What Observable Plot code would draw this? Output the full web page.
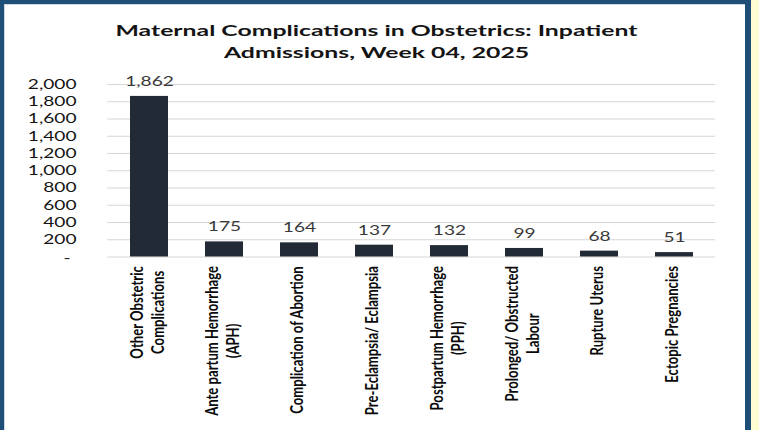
<!DOCTYPE html>
<html>
<head>
<meta charset="utf-8">
<script src="https://cdn.jsdelivr.net/npm/d3@7"></script>
<script src="https://cdn.jsdelivr.net/npm/@observablehq/plot@0.6"></script>
<style>
  body { margin: 0; background: #fff; }
  #wrap { position: relative; width: 759px; height: 430px; overflow: hidden; background: #fff; }
  .b { position: absolute; }
  #title { position: absolute; left: 0; top: 19px; width: 754px; text-align: center;
           font-family: Lato, "Open Sans", sans-serif; font-weight: bold; font-size: 16px;
           line-height: 21.5px; color: #141414; }
  #title span { display: inline-block; white-space: nowrap; transform-origin: 50% 50%; }
  #chart { position: absolute; left: 0; top: 64px; }
</style>
</head>
<body>
<div id="wrap">
  <div class="b" style="left:0;top:0;width:750px;height:4px;background:#1f4e79"></div>
  <div class="b" style="left:4px;top:4px;width:741px;height:1px;background:#cdd7e4"></div>
  <div class="b" style="left:0;top:0;width:4px;height:430px;background:#1f4e79"></div>
  <div class="b" style="left:4px;top:4px;width:1px;height:426px;background:#cdd7e4"></div>
  <div class="b" style="left:745px;top:0;width:6px;height:430px;background:#1f4e79"></div>
  <div class="b" style="left:751px;top:0;width:8px;height:430px;background:#fefed2"></div>
  <div id="title"></div>
  <div id="chart"></div>
</div>
<script>
// ---- data ----
const titleLines = ["Maternal Complications in Obstetrics: Inpatient", "Admissions, Week 04, 2025"];
const categories = [
  "Other Obstetric\nComplications",
  "Ante partum Hemorrhage\n(APH)",
  "Complication of Abortion",
  "Pre-Eclampsia/ Eclampsia",
  "Postpartum Hemorrhage\n(PPH)",
  "Prolonged/ Obstructed\nLabour",
  "Rupture Uterus",
  "Ectopic Pregnancies"
];
const values = [1862, 175, 164, 137, 132, 99, 68, 51];
const yTicks = [0, 200, 400, 600, 800, 1000, 1200, 1400, 1600, 1800, 2000];

// ---- measurement helpers ----
const ctx = document.createElement("canvas").getContext("2d");
function measure(text, font) { ctx.font = font; return ctx.measureText(text).width; }

// title (stretched to match the reference's wide lettering)
const titleEl = document.getElementById("title");
const sT = 522 / measure(titleLines[0], "bold 16px Lato");
titleLines.forEach((t, i) => {
  const s = document.createElement("span");
  s.textContent = t;
  s.style.transform = `scaleX(${sT})`;
  titleEl.appendChild(s);
  if (i < titleLines.length - 1) titleEl.appendChild(document.createElement("br"));
});

// number font stretch
const numSize = 13.5;
const sN = 48.7 / measure("2,000", `${numSize}px Lato`);
// category label font size (glyph height enlarged by catStretch)
const catSize = 150 / measure("Ante partum Hemorrhage", "bold 1px Lato");
const catStretch = 1.27;
const catFont = `bold ${catSize}px Lato`;
const catLH = 21 / (catSize * catStretch);
const maxLen = c => Math.max(...c.split("\n").map(l => measure(l, catFont)));

const data = categories.map((c, i) => ({cat: c, value: values[i]}));
const fmt = d3.format(",");

const W = 759, H = 366;
const chart = Plot.plot({
  width: W,
  height: H,
  marginLeft: 107.3,
  marginRight: 44,
  marginTop: 20,
  marginBottom: 173.5,
  x: {domain: categories, paddingInner: 0.5, paddingOuter: 0.25, axis: null},
  y: {domain: [0, 2000]},
  style: {fontFamily: "Lato, sans-serif", background: "transparent", overflow: "visible"},
  marks: [
    Plot.gridY(yTicks, {stroke: "#d6d6d6", strokeOpacity: 1, strokeWidth: 1}),
    Plot.barY(data, {x: "cat", y: "value", fill: "#222a35"}),
    Plot.axisY(yTicks.filter(v => v > 0), {tickSize: 0, tickPadding: 31.3, tickFormat: fmt,
      fontSize: numSize, fill: "#141414", label: null}),
    Plot.axisY([0], {tickSize: 0, tickPadding: 37.3, tickFormat: () => "-", dy: 2,
      fontSize: numSize, fill: "#141414", label: null}),
    Plot.text(data, {x: "cat", y: "value", text: d => fmt(d.value), lineAnchor: "bottom", dy: -10.6,
      fontSize: numSize, fill: "#3a3a3a", ariaDescription: "value-labels"}),
    ...categories.map(c => Plot.text([c], {
      x: d => d, frameAnchor: "bottom", rotate: -90, textAnchor: "middle", lineAnchor: "middle",
      lineHeight: catLH, dy: 9 + maxLen(c) / 2, dx: -3,
      fontSize: catSize, fontWeight: "bold", fill: "#0a0a0a", ariaDescription: "cat-label"
    }))
  ]
});

// stretch numeric labels horizontally like the reference
chart.querySelectorAll('g[aria-label="y-axis tick label"] text, g[aria-description="value-labels"] text').forEach(el => {
  const t = el.getAttribute("transform") || "";
  el.setAttribute("transform", `${t} scale(${sN},1)`);
});
// category labels: taller glyphs (local y maps to screen x after the -90 rotation)
chart.querySelectorAll('g[aria-description="cat-label"] text').forEach(el => {
  const t = el.getAttribute("transform") || "";
  el.setAttribute("transform", `${t} scale(1,${catStretch})`);
});

document.getElementById("chart").appendChild(chart);
</script>
</body>
</html>
